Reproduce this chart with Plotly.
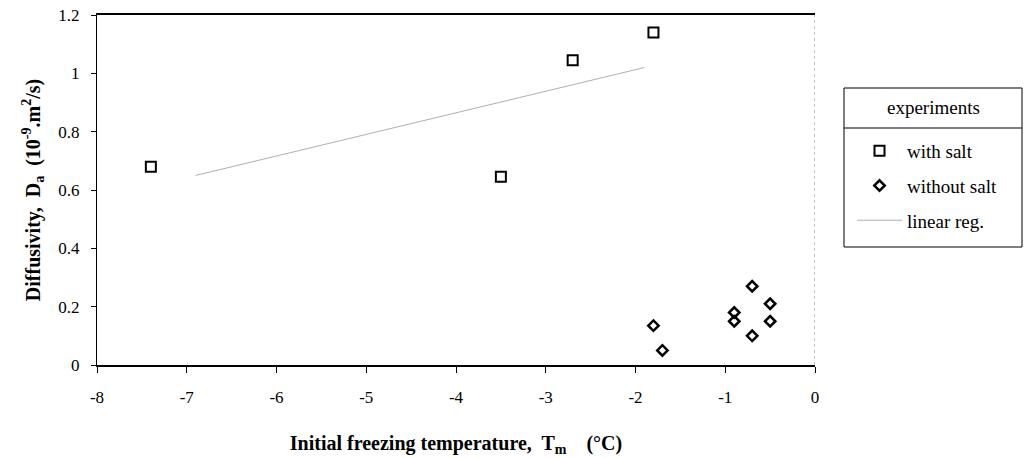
import plotly.graph_objects as go

# with salt (squares)
salt_x = [-7.4, -3.5, -2.7, -1.8]
salt_y = [0.68, 0.645, 1.045, 1.14]

# without salt (diamonds)
nosalt_x = [-1.8, -1.7, -0.9, -0.9, -0.7, -0.7, -0.5, -0.5]
nosalt_y = [0.135, 0.05, 0.18, 0.15, 0.27, 0.10, 0.21, 0.15]

# linear regression line (end points)
reg_x = [-6.9, -1.9]
reg_y = [0.65, 1.02]

x_ticks = [-8, -7, -6, -5, -4, -3, -2, -1, 0]
y_ticks = [0, 0.2, 0.4, 0.6, 0.8, 1.0, 1.2]
y_ticklabels = ["0", "0.2", "0.4", "0.6", "0.8", "1", "1.2"]

FONT = "Liberation Serif, Times New Roman, serif"

fig = go.Figure()
fig.add_trace(go.Scatter(
    x=salt_x, y=salt_y, mode="markers", name="with salt", legendgroup="a",
    marker=dict(symbol="square-open", size=10, color="black", line=dict(width=2, color="black")),
))
fig.add_trace(go.Scatter(
    x=nosalt_x, y=nosalt_y, mode="markers", name="without salt", legendgroup="b",
    marker=dict(symbol="diamond-open", size=8, color="black", line=dict(width=2.5, color="black")),
))
fig.add_trace(go.Scatter(
    x=reg_x, y=reg_y, mode="lines", name="linear reg.", legendgroup="c",
    line=dict(color="#b0b0b0", width=1),
))

fig.update_layout(
    width=1024, height=458,
    margin=dict(l=97, r=209, t=15, b=93),
    paper_bgcolor="white", plot_bgcolor="white",
    font=dict(family=FONT, color="black", size=16),
    legend=dict(
        xref="container", yref="container",
        x=852 / 1024, y=1 - 132 / 458, xanchor="left", yanchor="top",
        borderwidth=0,
        font=dict(family=FONT, size=19, color="black"),
        itemwidth=45, tracegroupgap=7,
        bgcolor="rgba(0,0,0,0)",
    ),
    xaxis=dict(
        range=[-8, 0], tickvals=x_ticks, ticktext=[str(v) for v in x_ticks],
        showgrid=False, zeroline=False, showline=True, linecolor="black", linewidth=1.5,
        mirror=True, ticks="outside", ticklen=6, tickcolor="black",
        ticklabelstandoff=10, automargin=False,
        tickfont=dict(family=FONT, size=17),
        title=dict(text="<b>Initial freezing temperature,  T<sub>m</sub>    (°C)</b>",
                   font=dict(family=FONT, size=20), standoff=30),
    ),
    yaxis=dict(
        range=[0, 1.2], tickvals=y_ticks, ticktext=y_ticklabels,
        showgrid=False, zeroline=False, showline=True, linecolor="black", linewidth=1,
        ticks="outside", ticklen=5, tickcolor="black",
        ticklabelstandoff=8, automargin=False,
        tickfont=dict(family=FONT, size=17),
        title=dict(text="<b>Diffusivity,  D<sub>a</sub>  (10<sup>-9</sup>.m<sup>2</sup>/s)</b>",
                   font=dict(family=FONT, size=20), standoff=12),
    ),
    showlegend=True,
)

# right frame edge (light dotted)
fig.add_shape(type="line", xref="x", yref="paper", x0=0, x1=0, y0=0, y1=1,
              line=dict(color="#888888", width=1, dash="dot"))

# legend frame, header separator and header text
px = lambda p: (p - 97) / 718
py = lambda p: (365 - p) / 350
fig.add_shape(type="rect", xref="paper", yref="paper",
              x0=px(844), x1=px(1022), y0=py(247), y1=py(88),
              line=dict(color="black", width=1))
fig.add_shape(type="line", xref="paper", yref="paper",
              x0=px(844), x1=px(1022), y0=py(128), y1=py(128),
              line=dict(color="black", width=1))
fig.add_annotation(xref="paper", yref="paper", x=px(933), y=py(108),
                   text="experiments", showarrow=False, xanchor="center", yanchor="middle",
                   font=dict(family=FONT, size=19, color="black"))

fig.write_html("out.html")
